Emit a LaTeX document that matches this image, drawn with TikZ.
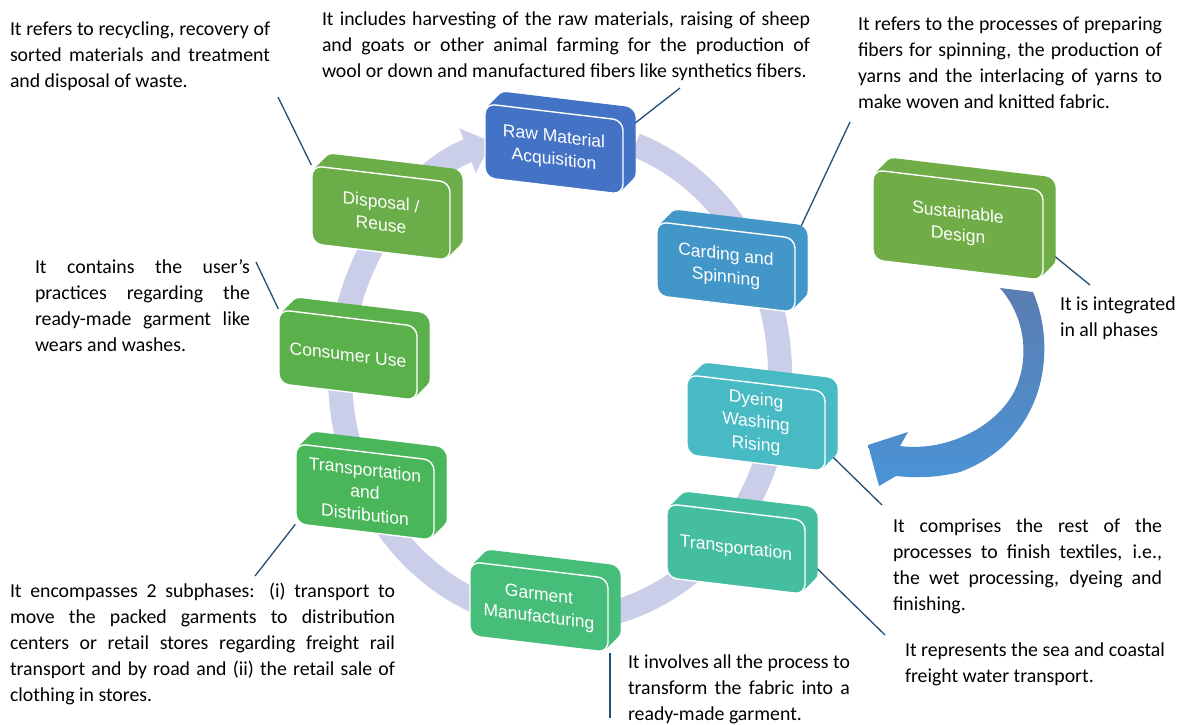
\documentclass[tikz,border=0pt]{standalone}
\usepackage{fontspec}
\setmainfont{Carlito}
\newfontfamily\boxfont{Liberation Sans}
\usetikzlibrary{arrows.meta,calc}
\pgfdeclarelayer{bg}
\pgfsetlayers{bg,main}
\definecolor{cRaw}{HTML}{4472C4}
\definecolor{cCard}{HTML}{4397C8}
\definecolor{cDye}{HTML}{47BAC4}
\definecolor{cTrans}{HTML}{45BD9F}
\definecolor{cGarm}{HTML}{47BD7A}
\definecolor{cTD}{HTML}{49B65A}
\definecolor{cCons}{HTML}{5AB04A}
\definecolor{cDisp}{HTML}{6BAD48}
\definecolor{cSD}{HTML}{70AD47}
\definecolor{ringc}{HTML}{CACEE8}
\definecolor{arrTop}{HTML}{5B7DB1}
\definecolor{arrBot}{HTML}{4A93D6}
\definecolor{connc}{HTML}{1F4E79}
\newcommand\jline[2]{\hbox to #1pt{#2}}
\newcommand\pline[1]{\hbox{#1}}
\begin{document}
\begin{tikzpicture}[x=1pt,y=-1pt,
  cube/.style={fill=#1, draw=white, line width=1.4pt, rounded corners=10pt,
    minimum width=138pt, minimum height=74pt, yslant=-0.12, text=white,
    font=\boxfont\fontsize{17.5}{22.5}\selectfont, align=center, inner sep=2pt,
    preaction={fill=#1, draw=#1, transform canvas={shift={(12pt,12pt)}}},
    preaction={fill=#1, draw=#1, transform canvas={shift={(10pt,10pt)}}},
    preaction={fill=#1, draw=#1, transform canvas={shift={(8pt,8pt)}}},
    preaction={fill=#1, draw=#1, transform canvas={shift={(6pt,6pt)}}},
    preaction={fill=#1, draw=#1, transform canvas={shift={(4pt,4pt)}}},
    preaction={fill=#1, draw=#1, transform canvas={shift={(2pt,2pt)}}}},
  ann/.style={anchor=base west, inner sep=0pt, outer sep=0pt,
    font=\fontsize{19.8}{26}\selectfont, text=black},
  conn/.style={draw=connc, line width=1.3pt},
  ring/.style={draw=ringc, line width=24pt, -{Triangle[width=46pt,length=26pt]}}]
\useasboundingbox (0,0) rectangle (1178,724);

% boxes
\node[cube=cRaw] (raw) at (554,149) {Raw Material\\Acquisition};
\node[cube=cCard] (card) at (726,267) {Carding and\\Spinning};
\node[cube=cDye, minimum height=80pt] (dye) at (756,423) {Dyeing\\Washing\\Rising};
\node[cube=cTrans] (trans) at (736,549) {Transportation};
\node[cube=cGarm] (garm) at (539,607) {Garment\\Manufacturing};
\node[cube=cTD, minimum height=80pt] (td) at (365,492) {Transportation\\and\\Distribution};
\node[cube=cCons] (cons) at (348,355) {Consumer Use};
\node[cube=cDisp, minimum height=78pt] (disp) at (381,213) {Disposal /\\Reuse};
\node[cube=cSD, minimum width=170pt, minimum height=90pt] (sd) at (958,225) {Sustainable\\Design};

% annotations
\node[ann] (tTL) at (10,35) {\vtop{\jline{260}{It refers to recycling, recovery of}\jline{260}{sorted materials and treatment}\pline{and disposal of waste.}}};
\node[ann] (tTC) at (322,25) {\vtop{\jline{488}{It includes harvesting of the raw materials, raising of sheep}\jline{488}{and goats or other animal farming for the production of}\pline{wool or down and manufactured fibers like synthetics fibers.}}};
\node[ann] (tTR) at (858,30) {\vtop{\jline{304}{It refers to the processes of preparing}\jline{304}{fibers for spinning, the production of}\jline{304}{yarns and the interlacing of yarns to}\pline{make woven and knitted fabric.}}};
\node[ann] (tLM) at (35,273) {\vtop{\jline{215}{It contains the user’s}\jline{215}{practices regarding the}\jline{215}{ready-made garment like}\pline{wears and washes.}}};
\node[ann] (tR) at (1060,310) {\vtop{\pline{It is integrated}\pline{in all phases}}};
\node[ann] (tRL) at (893,532) {\vtop{\jline{269}{It comprises the rest of the}\jline{269}{processes to finish textiles, i.e.,}\jline{269}{the wet processing, dyeing and}\pline{finishing.}}};
\node[ann] (tRep) at (905,656) {\vtop{\pline{It represents the sea and coastal}\pline{freight water transport.}}};
\node[ann] (tBM) at (628,668) {\vtop{\jline{222}{It involves all the process to}\jline{222}{transform the fabric into a}\pline{ready-made garment.}}};
\node[ann] (tBL) at (10,597) {\vtop{\jline{385}{It encompasses 2 subphases: (i) transport to}\jline{385}{move the packed garments to distribution}\jline{385}{centers or retail stores regarding freight rail}\jline{385}{transport and by road and (ii) the retail sale of}\pline{clothing in stores.}}};

% free ends of connectors
\coordinate (cTL) at (278,97);
\coordinate (cTC) at (680,88);
\coordinate (cTR) at (850,122);
\coordinate (cSD) at (1090,285);
\coordinate (cLM) at (256,262);
\coordinate (cRL) at (882,505);
\coordinate (cRep) at (885,635);
\coordinate (cBM) at (610,718);
\coordinate (cBL) at (255,576);

\begin{pgfonlayer}{bg}
\fill[white] (0,0) rectangle (1178,724);
\draw[ring] (560,375) ++(-70:220 and 245) arc[start angle=-70, end angle=252, x radius=220, y radius=245];
\shade[top color=arrTop, bottom color=arrBot]
  (1000,288) -- (1033,292) .. controls (1058,350) and (1045,440) .. (960,472)
  .. controls (935,478) and (915,478) .. (896,476) -- (879,486) -- (868,445)
  -- (908,432) -- (900,446) .. controls (945,452) and (995,428) .. (1014,392)
  .. controls (1030,360) and (1026,318) .. (1000,288) -- cycle;
\draw[conn] (cTL) -- (disp.north west);
\draw[conn] (cTC) -- (raw.20);
\draw[conn] (cTR) -- (card.north east);
\draw[conn] (cSD) -- (sd.-8);
\draw[conn] (cLM) -- (cons.north west);
\draw[conn] (cRL) -- (dye.-15);
\draw[conn] (cRep) -- (trans.east);
\draw[conn] (cBM) -- (cBM |- garm.south east);
\draw[conn] (cBL) -- (td.south west);
\end{pgfonlayer}
\end{tikzpicture}
\end{document}
